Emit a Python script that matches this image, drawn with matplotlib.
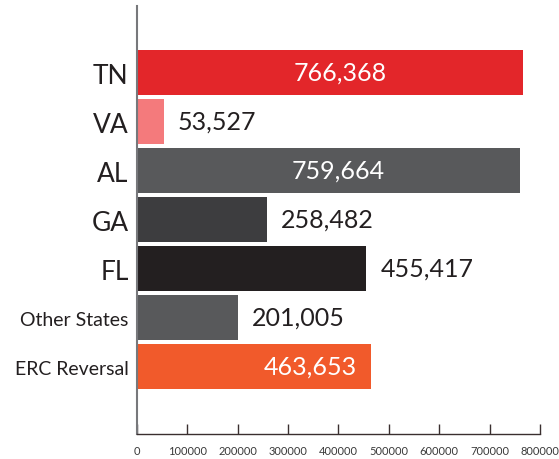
import matplotlib
matplotlib.use("Agg")
import matplotlib.pyplot as plt

categories = ["TN", "VA", "AL", "GA", "FL", "Other States", "ERC Reversal"]
values = [766368, 53527, 759664, 258482, 455417, 201005, 463653]
colors = ["#E3262A", "#F47A7C", "#58595B", "#3D3D3F", "#231F20", "#58595B", "#F15A2B"]
# where the value label goes: centre of bar, end inside, or just outside
label_mode = ["center", "outside", "center", "outside", "outside", "outside", "inside"]
xticks = [0, 100000, 200000, 300000, 400000, 500000, 600000, 700000, 800000]

plt.rcParams['font.family'] = ['Lato', 'DejaVu Sans']

fig = plt.figure(figsize=(5.59, 4.6), dpi=100)
ax = fig.add_axes([0.245, 0.054, 0.721, 0.931])

pos = list(range(len(categories)))
ax.barh(pos, values, height=0.92, color=colors)

for i, v in enumerate(values):
    txt = f"{v:,}"
    if label_mode[i] == "center":
        ax.annotate(txt, (v / 2, i), xytext=(7, 0), textcoords="offset points",
                    ha="center", va="center", color="white", fontsize=18)
    elif label_mode[i] == "inside":
        ax.annotate(txt, (v, i), xytext=(-10, 0), textcoords="offset points",
                    ha="right", va="center", color="white", fontsize=18)
    else:
        ax.annotate(txt, (v, i), xytext=(10, 0), textcoords="offset points",
                    ha="left", va="center", color="#231F20", fontsize=18)

ax.set_xlim(0, 800000)
ax.set_ylim(len(categories) - 1 + 1.38, -1.36)
ax.set_yticks(pos)
ax.set_yticklabels(categories)
for lab, c in zip(ax.get_yticklabels(), categories):
    lab.set_fontsize(14 if len(c) > 3 else 19)
    lab.set_color("#231F20")
ax.tick_params(axis="y", length=0, pad=6)

ax.set_xticks(xticks)
ax.set_xticklabels([str(t) for t in xticks])
ax.tick_params(axis="x", direction="in", length=7, width=1, color="#3a2f2f",
               labelsize=8, labelcolor="#3a3a3a", pad=8)

ax.spines["top"].set_visible(False)
ax.spines["right"].set_visible(False)
ax.spines["left"].set_color("#77787B")
ax.spines["left"].set_linewidth(1.5)
ax.spines["bottom"].set_color("#3a2f2f")
ax.spines["bottom"].set_linewidth(1)

fig.savefig("out.png", dpi=100)
